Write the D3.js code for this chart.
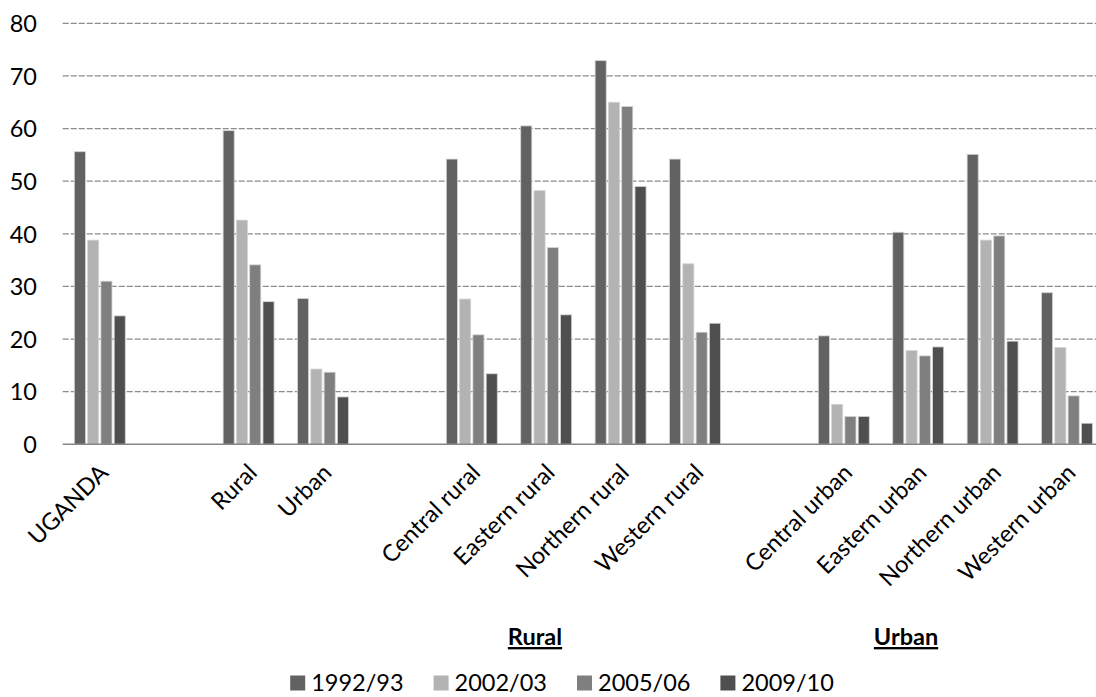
<!DOCTYPE html>
<html>
<head>
<meta charset="utf-8">
<script src="https://cdn.jsdelivr.net/npm/d3@7"></script>
<style>
  html, body { margin: 0; padding: 0; background: #fff; }
  svg { display: block; font-family: Lato, "Open Sans", sans-serif; }
</style>
</head>
<body>
<svg id="chart" width="1096" height="697"></svg>
<script>
// Poverty headcount (%) by survey round
const series = ["1992/93", "2002/03", "2005/06", "2009/10"];
const categoryGroups = [
  ["UGANDA"],
  ["Rural", "Urban"],
  ["Central rural", "Eastern rural", "Northern rural", "Western rural"],
  ["Central urban", "Eastern urban", "Northern urban", "Western urban"]
];
const values1992 = [55.6, 59.6, 27.7, 54.2, 60.5, 72.9, 54.2, 20.6, 40.3, 55.1, 28.8];
const values2002 = [38.8, 42.6, 14.3, 27.6, 48.2, 65.0, 34.3,  7.6, 17.8, 38.8, 18.4];
const values2005 = [31.0, 34.1, 13.7, 20.8, 37.4, 64.2, 21.3,  5.3, 16.8, 39.6,  9.2];
const values2009 = [24.4, 27.1,  9.0, 13.4, 24.6, 49.0, 23.0,  5.3, 18.5, 19.6,  4.0];
const yTicks = [0, 10, 20, 30, 40, 50, 60, 70, 80];
const sectionTitles = ["Rural", "Urban"];

const colors = ["#626262", "#b3b3b3", "#7f7f7f", "#4f4f4f"];
const seriesValues = [values1992, values2002, values2005, values2009];
const categories = categoryGroups.flat();

// Band domain: categories with an empty slot between groups
const slots = [];
categoryGroups.forEach((g, i) => {
  if (i > 0) slots.push("__gap" + i);
  g.forEach(c => slots.push(c));
});

const svg = d3.select("#chart");
const margin = { left: 62.7, top: 23.3, bottom: 444.3 };
const slotW = 74.4;

const x0 = d3.scaleBand().domain(slots)
  .range([margin.left, margin.left + slotW * slots.length]).padding(0);
const groupW = x0.bandwidth() / 1.4;
const x1 = d3.scaleBand().domain(series)
  .range([(x0.bandwidth() - groupW) / 2, (x0.bandwidth() + groupW) / 2]).padding(0);
const y = d3.scaleLinear().domain([0, 80]).range([margin.bottom, margin.top]);

// Dashed horizontal gridlines
svg.append("g").selectAll("line")
  .data(yTicks.filter(t => t > 0))
  .join("line")
  .attr("x1", margin.left).attr("x2", 1096)
  .attr("y1", d => y(d)).attr("y2", d => y(d))
  .attr("stroke", "#8c8c8c").attr("stroke-width", 1.3)
  .attr("stroke-dasharray", "6,2");

// Y axis labels
const yAxis = d3.axisLeft(y).tickValues(yTicks).tickSize(0).tickPadding(0);
const yg = svg.append("g").attr("transform", "translate(37,0)").call(yAxis);
yg.select(".domain").remove();
yg.selectAll("text")
  .attr("font-family", "Lato, sans-serif")
  .attr("font-size", 23.5)
  .attr("fill", "#000")
  .attr("dy", "0.35em");

// Bars
const rows = categories.map((c, i) => ({ cat: c, vals: seriesValues.map(s => s[i]) }));
const groups = svg.append("g").selectAll("g")
  .data(rows).join("g")
  .attr("transform", d => `translate(${x0(d.cat)},0)`);
groups.selectAll("rect")
  .data(d => d.vals.map((v, j) => ({ key: series[j], v, j })))
  .join("rect")
  .attr("x", d => x1(d.key) + 1)
  .attr("width", x1.bandwidth() - 2.2)
  .attr("y", d => y(d.v))
  .attr("height", d => y(0) - y(d.v))
  .attr("fill", d => colors[d.j])
  .attr("stroke", "#d4d4d4")
  .attr("stroke-width", 0.8);

// Baseline
svg.append("line")
  .attr("x1", margin.left).attr("x2", 1096)
  .attr("y1", y(0)).attr("y2", y(0))
  .attr("stroke", "#868686").attr("stroke-width", 1.6);

// Rotated category labels
svg.append("g").selectAll("text")
  .data(categories).join("text")
  .attr("transform", d => `translate(${x0(d) + x0.bandwidth() / 2 + 4},${y(0) + 24}) rotate(-45)`)
  .attr("text-anchor", "end")
  .attr("dy", "0.35em")
  .attr("font-size", 23.5)
  .attr("fill", "#000")
  .text(d => d);

// Section titles under the regional groups
const titleX = [535, 906];
svg.append("g").selectAll("text")
  .data(sectionTitles).join("text")
  .attr("x", (d, i) => titleX[i])
  .attr("y", 645)
  .attr("text-anchor", "middle")
  .attr("font-size", 23.5)
  .attr("font-weight", "bold")
  .attr("text-decoration", "underline")
  .attr("fill", "#000")
  .text(d => d);

// Legend
const legend = svg.append("g");
const items = legend.selectAll("g").data(series).join("g");
items.append("rect")
  .attr("width", 15).attr("height", 15)
  .attr("y", 675.5)
  .attr("fill", (d, i) => colors[i]);
items.append("text")
  .attr("x", 21).attr("y", 691)
  .attr("font-size", 23.5)
  .attr("fill", "#000")
  .text(d => d);
let cx = 0;
const gap = 30;
const widths = [];
items.each(function () { widths.push(this.getBBox().width); });
const total = d3.sum(widths) + gap * (widths.length - 1);
cx = 562 - total / 2;
items.attr("transform", (d, i) => {
  const t = `translate(${cx},0)`;
  cx += widths[i] + gap;
  return t;
});
</script>
</body>
</html>
